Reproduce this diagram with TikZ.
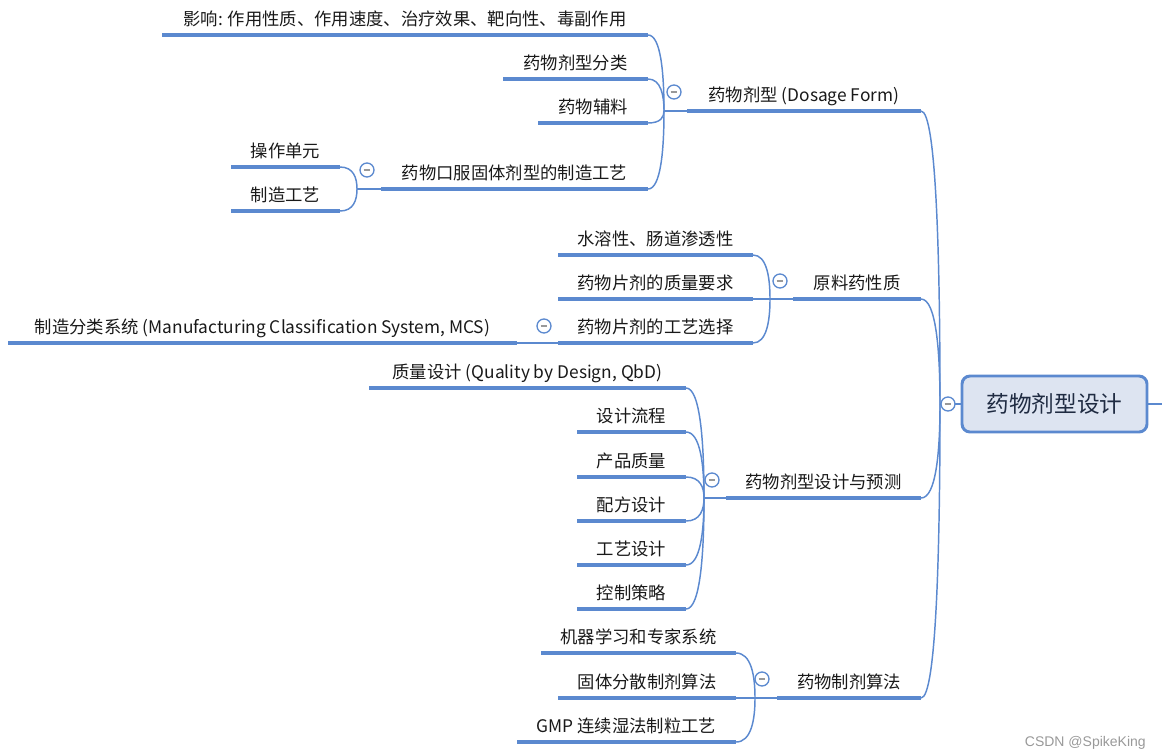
\documentclass[tikz,border=0pt]{standalone}
\usepackage{fontspec}
\setmainfont{Noto Sans CJK SC}
\newfontfamily\wmfont{Liberation Sans}
\usetikzlibrary{calc}
\definecolor{mapblue}{HTML}{5B89CF}
\definecolor{rootfill}{HTML}{DDE4F1}
\definecolor{rootink}{HTML}{1F2B42}
\tikzset{
  topic/.style={anchor=base, inner sep=0pt, font=\fontsize{13}{15}\selectfont, text=black!90},
  uline/.style={draw=mapblue, line width=3pt},
  conn/.style={draw=mapblue, line width=1.1pt},
  curveto/.style={to path={.. controls ($(\tikztostart)!0.5!(\tikztostart|-\tikztotarget)$) and ($(\tikztotarget)!0.8!(\tikztostart|-\tikztotarget)$) .. (\tikztotarget)}},
  fold/.style={circle, draw=mapblue, line width=1pt, fill=white, minimum size=10.5pt, inner sep=0pt,
    path picture={\draw[black!40, line width=0.9pt] ([xshift=-2.6pt]path picture bounding box.center) -- ([xshift=2.6pt]path picture bounding box.center);}},
  rootbox/.style={draw=mapblue, line width=2.2pt, fill=rootfill, rounded corners=6pt, minimum width=138.75pt, minimum height=42pt, font=\fontsize{17}{20}\selectfont, text=rootink}
}
\begin{document}
\begin{tikzpicture}[x=0.75pt,y=0.75pt,yscale=-1,xscale=1]
\useasboundingbox (0,0) rectangle (1162,754);

%Root
\node[rootbox] (root) at (1054.5,404) {药物剂型设计};
\coordinate (tail) at (1162,404);

%Joints
\coordinate (j0) at (940,404);
\coordinate (j1) at (664,111);
\coordinate (j14) at (357,189);
\coordinate (j2) at (770,299);
\coordinate (j3) at (704,498);
\coordinate (j4) at (755,698);

%Branch lines, ends
\coordinate (b1a) at (687,111); \coordinate (b1b) at (921,111);
\coordinate (b2a) at (793,299); \coordinate (b2b) at (921,299);
\coordinate (b3a) at (726,498); \coordinate (b3b) at (921,498);
\coordinate (b4a) at (777,698); \coordinate (b4b) at (921,698);

\coordinate (c11a) at (162,35);  \coordinate (c11b) at (648,35);
\coordinate (c12a) at (503,79);  \coordinate (c12b) at (648,79);
\coordinate (c13a) at (538,123); \coordinate (c13b) at (648,123);
\coordinate (c14a) at (381,189); \coordinate (c14b) at (648,189);
\coordinate (c141a) at (231,167); \coordinate (c141b) at (340,167);
\coordinate (c142a) at (231,211); \coordinate (c142b) at (340,211);

\coordinate (c21a) at (558,255); \coordinate (c21b) at (753,255);
\coordinate (c22a) at (558,299); \coordinate (c22b) at (753,299);
\coordinate (c23a) at (558,343); \coordinate (c23b) at (753,343);
\coordinate (c231a) at (8,343);  \coordinate (c231b) at (517,343);

\coordinate (c31a) at (369,388); \coordinate (c31b) at (686,388);
\coordinate (c32a) at (577,432); \coordinate (c32b) at (686,432);
\coordinate (c33a) at (577,477); \coordinate (c33b) at (686,477);
\coordinate (c34a) at (577,521); \coordinate (c34b) at (686,521);
\coordinate (c35a) at (577,565); \coordinate (c35b) at (686,565);
\coordinate (c36a) at (577,609); \coordinate (c36b) at (686,609);

\coordinate (c41a) at (541,653); \coordinate (c41b) at (736,653);
\coordinate (c42a) at (558,698); \coordinate (c42b) at (736,698);
\coordinate (c43a) at (517,742); \coordinate (c43b) at (736,742);

%Curve Lines
\draw[conn] (root.west) -- (j0);
\draw[conn] (root.east) -- (tail);
\draw[conn] (j0) to[curveto] (b1b);
\draw[conn] (j0) to[curveto] (b2b);
\draw[conn] (j0) to[curveto] (b3b);
\draw[conn] (j0) to[curveto] (b4b);

\draw[conn] (j1) -- (b1a);
\draw[conn] (j1) to[curveto] (c11b);
\draw[conn] (j1) to[curveto] (c12b);
\draw[conn] (j1) to[curveto] (c13b);
\draw[conn] (j1) to[curveto] (c14b);
\draw[conn] (j14) -- (c14a);
\draw[conn] (j14) to[curveto] (c141b);
\draw[conn] (j14) to[curveto] (c142b);

\draw[conn] (j2) -- (b2a);
\draw[conn] (j2) to[curveto] (c21b);
\draw[conn] (j2) -- (c22b);
\draw[conn] (j2) to[curveto] (c23b);
\draw[conn] (c231b) -- (c23a);

\draw[conn] (j3) -- (b3a);
\draw[conn] (j3) to[curveto] (c31b);
\draw[conn] (j3) to[curveto] (c32b);
\draw[conn] (j3) to[curveto] (c33b);
\draw[conn] (j3) to[curveto] (c34b);
\draw[conn] (j3) to[curveto] (c35b);
\draw[conn] (j3) to[curveto] (c36b);

\draw[conn] (j4) -- (b4a);
\draw[conn] (j4) to[curveto] (c41b);
\draw[conn] (j4) -- (c42b);
\draw[conn] (j4) to[curveto] (c43b);

%Straight Lines
\draw[uline] (b1a) -- (b1b);
\draw[uline] (b2a) -- (b2b);
\draw[uline] (b3a) -- (b3b);
\draw[uline] (b4a) -- (b4b);
\draw[uline] (c11a) -- (c11b);
\draw[uline] (c12a) -- (c12b);
\draw[uline] (c13a) -- (c13b);
\draw[uline] (c14a) -- (c14b);
\draw[uline] (c141a) -- (c141b);
\draw[uline] (c142a) -- (c142b);
\draw[uline] (c21a) -- (c21b);
\draw[uline] (c22a) -- (c22b);
\draw[uline] (c23a) -- (c23b);
\draw[uline] (c231a) -- (c231b);
\draw[uline] (c31a) -- (c31b);
\draw[uline] (c32a) -- (c32b);
\draw[uline] (c33a) -- (c33b);
\draw[uline] (c34a) -- (c34b);
\draw[uline] (c35a) -- (c35b);
\draw[uline] (c36a) -- (c36b);
\draw[uline] (c41a) -- (c41b);
\draw[uline] (c42a) -- (c42b);
\draw[uline] (c43a) -- (c43b);

% Text Node
\node[topic] (t1) at (804,101) {药物剂型 (Dosage Form)};
\node[topic] (t2) at (857,289) {原料药性质};
\node[topic] (t3) at (823.5,488) {药物剂型设计与预测};
\node[topic] (t4) at (849,688) {药物制剂算法};

\node[topic] (t11) at (405,25) {影响: 作用性质、作用速度、治疗效果、靶向性、毒副作用};
\node[topic] (t12) at (575.5,69) {药物剂型分类};
\node[topic] (t13) at (593,113) {药物辅料};
\node[topic] (t14) at (514.5,179) {药物口服固体剂型的制造工艺};
\node[topic] (t141) at (285.5,157) {操作单元};
\node[topic] (t142) at (285.5,201) {制造工艺};

\node[topic] (t21) at (655.5,245) {水溶性、肠道渗透性};
\node[topic] (t22) at (655.5,289) {药物片剂的质量要求};
\node[topic] (t23) at (655.5,333) {药物片剂的工艺选择};
\node[topic] (t231) at (262.5,333) {制造分类系统 (Manufacturing Classification System, MCS)};

\node[topic] (t31) at (527.5,378) {质量设计 (Quality by Design, QbD)};
\node[topic] (t32) at (631.5,422) {设计流程};
\node[topic] (t33) at (631.5,467) {产品质量};
\node[topic] (t34) at (631.5,511) {配方设计};
\node[topic] (t35) at (631.5,555) {工艺设计};
\node[topic] (t36) at (631.5,599) {控制策略};

\node[topic] (t41) at (638.5,643) {机器学习和专家系统};
\node[topic] (t42) at (647,688) {固体分散制剂算法};
\node[topic] (t43) at (626.5,732) {GMP 连续湿法制粒工艺};

%Fold marks
\node[fold] (f0) at (948,404) {};
\node[fold] (f1) at (674,92) {};
\node[fold] (f14) at (367,170) {};
\node[fold] (f2) at (780,281) {};
\node[fold] (f23) at (544,326) {};
\node[fold] (f3) at (712,480) {};
\node[fold] (f4) at (762,679) {};

\node[anchor=base east, inner sep=0pt, font=\wmfont\fontsize{10.5}{12}\selectfont, text=black!40] (wm) at (1146,746) {CSDN @SpikeKing};
\end{tikzpicture}
\end{document}
